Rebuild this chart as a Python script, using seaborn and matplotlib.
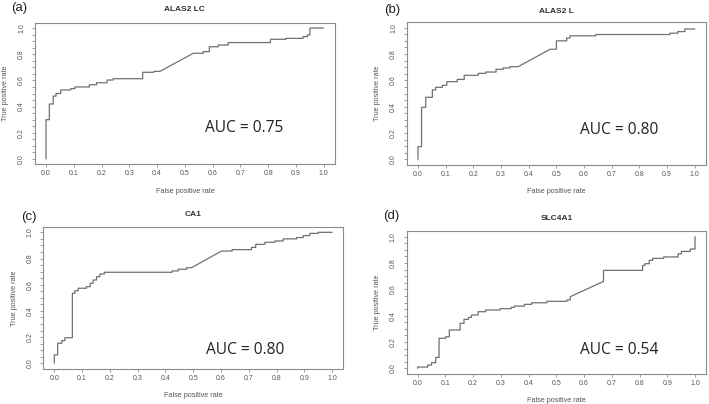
import numpy as np
import pandas as pd
import seaborn as sns
import matplotlib.pyplot as plt
from matplotlib.ticker import MultipleLocator

# ROC curve vertices (false positive rate, true positive rate)
fpr_a = [0, 0, 0.012, 0.012, 0.026, 0.026, 0.036, 0.036, 0.053, 0.053, 0.089, 0.089, 0.104, 0.104,
         0.156, 0.156, 0.182, 0.182, 0.22, 0.22, 0.242, 0.242, 0.348, 0.348, 0.388, 0.388, 0.41,
         0.53, 0.566, 0.566, 0.588, 0.588, 0.62, 0.62, 0.656, 0.656, 0.808, 0.808, 0.863, 0.863,
         0.925, 0.925, 0.941, 0.941, 0.95, 0.95, 1.0]
tpr_a = [0, 0.30, 0.30, 0.42, 0.42, 0.48, 0.48, 0.50, 0.50, 0.527, 0.527, 0.537, 0.537, 0.55,
         0.55, 0.567, 0.567, 0.582, 0.582, 0.603, 0.603, 0.613, 0.613, 0.662, 0.662, 0.669, 0.669,
         0.807, 0.807, 0.82, 0.82, 0.857, 0.857, 0.87, 0.87, 0.889, 0.889, 0.914, 0.914, 0.921,
         0.921, 0.934, 0.934, 0.947, 0.947, 1.0, 1.0]

fpr_b = [0, 0, 0.013, 0.013, 0.028, 0.028, 0.052, 0.052, 0.064, 0.064, 0.088, 0.088, 0.104, 0.104,
         0.142, 0.142, 0.167, 0.167, 0.218, 0.218, 0.245, 0.245, 0.282, 0.282, 0.308, 0.308, 0.332,
         0.332, 0.362, 0.477, 0.50, 0.50, 0.537, 0.537, 0.549, 0.549, 0.642, 0.642, 0.91, 0.91,
         0.938, 0.938, 0.964, 0.964, 1.0]
tpr_b = [0, 0.096, 0.096, 0.395, 0.395, 0.471, 0.471, 0.527, 0.527, 0.547, 0.547, 0.562, 0.562, 0.59,
         0.59, 0.607, 0.607, 0.638, 0.638, 0.653, 0.653, 0.663, 0.663, 0.684, 0.684, 0.694, 0.694,
         0.704, 0.704, 0.836, 0.836, 0.90, 0.90, 0.921, 0.921, 0.938, 0.938, 0.948, 0.948, 0.958,
         0.958, 0.97, 0.97, 0.99, 0.99]

fpr_c = [0, 0, 0.012, 0.012, 0.027, 0.027, 0.038, 0.038, 0.065, 0.065, 0.074, 0.074, 0.086, 0.086,
         0.115, 0.115, 0.129, 0.129, 0.14, 0.14, 0.152, 0.152, 0.164, 0.164, 0.18, 0.18, 0.424,
         0.424, 0.446, 0.446, 0.476, 0.476, 0.494, 0.602, 0.64, 0.64, 0.71, 0.71, 0.725, 0.725,
         0.758, 0.758, 0.794, 0.794, 0.824, 0.824, 0.872, 0.872, 0.896, 0.896, 0.92, 0.92, 0.95,
         0.95, 1.0]
tpr_c = [0, 0.064, 0.064, 0.153, 0.153, 0.173, 0.173, 0.195, 0.195, 0.534, 0.534, 0.554, 0.554, 0.573,
         0.573, 0.585, 0.585, 0.611, 0.611, 0.636, 0.636, 0.661, 0.661, 0.682, 0.682, 0.695, 0.695,
         0.705, 0.705, 0.718, 0.718, 0.73, 0.73, 0.857, 0.857, 0.868, 0.868, 0.885, 0.885, 0.908,
         0.908, 0.924, 0.924, 0.934, 0.934, 0.95, 0.95, 0.96, 0.96, 0.975, 0.975, 0.992, 0.992,
         1.0, 1.0]

fpr_d = [0, 0, 0.036, 0.036, 0.05, 0.05, 0.065, 0.065, 0.077, 0.077, 0.101, 0.101, 0.114, 0.114,
         0.153, 0.153, 0.167, 0.167, 0.183, 0.183, 0.194, 0.194, 0.218, 0.218, 0.245, 0.245, 0.297,
         0.297, 0.337, 0.337, 0.349, 0.349, 0.385, 0.385, 0.411, 0.411, 0.466, 0.466, 0.538, 0.538,
         0.55, 0.55, 0.67, 0.67, 0.811, 0.811, 0.82, 0.82, 0.835, 0.835, 0.847, 0.847, 0.887,
         0.887, 0.939, 0.939, 0.951, 0.951, 0.983, 0.983, 1.0, 1.0]
tpr_d = [0, 0.01, 0.01, 0.025, 0.025, 0.043, 0.043, 0.083, 0.083, 0.228, 0.228, 0.24, 0.24, 0.291,
         0.291, 0.342, 0.342, 0.372, 0.372, 0.387, 0.387, 0.405, 0.405, 0.43, 0.43, 0.443, 0.443,
         0.453, 0.453, 0.463, 0.463, 0.473, 0.473, 0.486, 0.486, 0.498, 0.498, 0.509, 0.509, 0.519,
         0.519, 0.544, 0.66, 0.744, 0.744, 0.782, 0.782, 0.795, 0.795, 0.82, 0.82, 0.835, 0.835,
         0.846, 0.846, 0.87, 0.87, 0.888, 0.888, 0.906, 0.906, 1.0]

genes = ["ALAS2 LC", "ALAS2 L", "CA1", "SLC4A1"]
panel_tags = ["(a)", "(b)", "(c)", "(d)"]
auc_labels = ["AUC = 0.75", "AUC = 0.80", "AUC = 0.80", "AUC = 0.54"]
curves = [(fpr_a, tpr_a), (fpr_b, tpr_b), (fpr_c, tpr_c), (fpr_d, tpr_d)]

# layout in pixels: left, top, width, height of each axes box
W, H = 709, 404
boxes = [(34.9, 22.8, 300, 141.4), (406.9, 22.4, 299, 142.2),
         (43.2, 227.1, 300, 141.4), (406.6, 231.4, 299.5, 142.2)]
auc_pos = [(0.572, 0.237), (0.585, 0.223), (0.546, 0.10), (0.585, 0.139)]
tag_pos = [(19, 8), (392, 10), (29, 217), (391, 216)]
title_pad = [8.5, 7, 8, 8.2]

sns.set_style("white")
plt.rcParams['font.family'] = ['Liberation Sans', 'DejaVu Sans']

line_col = "#707070"
frame_col = "#8c8c8c"
text_col = "#555555"

fig = plt.figure(figsize=(W / 100, H / 100), dpi=100)

for i in range(4):
    l, t, w, h = boxes[i]
    ax = fig.add_axes([l / W, (H - t - h) / H, w / W, h / H])
    df = pd.DataFrame({"fpr": curves[i][0], "tpr": curves[i][1]})
    sns.lineplot(data=df, x="fpr", y="tpr", sort=False, estimator=None,
                 color=line_col, lw=0.9, ax=ax)
    ax.set_xlim(-0.04, 1.04)
    ax.set_ylim(-0.04, 1.04)
    ax.set_xticks(np.round(np.arange(0, 1.01, 0.1), 1))
    ax.set_xticklabels([f"{v:.1f}" for v in np.arange(0, 1.01, 0.1)])
    ax.set_yticks(np.round(np.arange(0, 1.01, 0.2), 1))
    ax.set_yticklabels([f"{v:.1f}" for v in np.arange(0, 1.01, 0.2)],
                       rotation=90, va="center")
    ax.yaxis.set_minor_locator(MultipleLocator(0.05))
    ax.tick_params(axis="both", which="both", direction="out", length=2.5, width=0.6,
                   color=frame_col, labelcolor=text_col, labelsize=5)
    ax.tick_params(axis="x", pad=2)
    ax.tick_params(axis="y", pad=4.5)
    ax.tick_params(left=True, bottom=True)
    ax.tick_params(axis="y", which="minor", left=True, length=2.5, width=0.6, color=frame_col)
    for s in ax.spines.values():
        s.set_color(frame_col)
        s.set_linewidth(0.8)
    ax.set_xlabel("False positive rate", fontsize=5.2, color=text_col)
    ax.set_ylabel("True positive rate", fontsize=5.2, color=text_col)
    ax.xaxis.set_label_coords(0.5, -0.165)
    ax.yaxis.set_label_coords(-0.085, 0.5)
    ax.set_title(genes[i], fontsize=6, fontweight="bold", color="#333333", pad=title_pad[i])
    ax.text(auc_pos[i][0], auc_pos[i][1], auc_labels[i], fontsize=11.2,
            family=["Open Sans", "DejaVu Sans"], color="#222222",
            ha="left", va="center")
    fig.text(tag_pos[i][0] / W, 1 - tag_pos[i][1] / H, panel_tags[i], fontsize=9.5,
             color="#222222", ha="center", va="center")

fig.savefig("out.png", dpi=100)
